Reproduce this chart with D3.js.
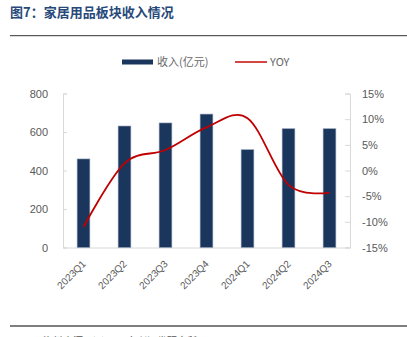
<!DOCTYPE html>
<html>
<head>
<meta charset="utf-8">
<script src="https://cdn.jsdelivr.net/npm/d3@7"></script>
<style>
  html, body { margin: 0; padding: 0; background: #fff; }
  svg { display: block; font-family: "Liberation Sans", Arial, "Noto Sans CJK SC", sans-serif; }
</style>
</head>
<body>
<svg id="chart" width="407" height="337"></svg>
<script>
// Quarterly revenue of the home-goods sector (bars) and YoY growth (line)
const categories = ["2023Q1", "2023Q2", "2023Q3", "2023Q4", "2024Q1", "2024Q2", "2024Q3"];
const revenue = [460, 631, 647, 693, 508, 617, 617];          // 亿元
const yoy = [-11.0, 1.4, 4.0, 8.4, 10.2, -2.8, -4.3];          // %
const leftTicks = [0, 200, 400, 600, 800];
const rightTicks = [-15, -10, -5, 0, 5, 10, 15];

const svg = d3.select("#chart");
const plot = { left: 63, right: 350, top: 93.5, bottom: 247.5 };

// Title and rules
svg.append("text")
  .attr("x", 10).attr("y", 17)
  .attr("font-size", 13).attr("font-weight", "bold")
  .attr("fill", "#27497a")
  .attr("font-family", "'Noto Sans CJK SC', sans-serif")
  .text("图7：家居用品板块收入情况");
svg.append("line").attr("x1", 10).attr("x2", 407).attr("y1", 35.7).attr("y2", 35.7)
  .attr("stroke", "#333").attr("stroke-width", 1);
svg.append("line").attr("x1", 10).attr("x2", 407).attr("y1", 326).attr("y2", 326)
  .attr("stroke", "#555").attr("stroke-width", 1.3);
svg.append("text")
  .attr("x", 43).attr("y", 345)
  .attr("font-size", 10).attr("fill", "#555")
  .attr("font-family", "'Noto Sans CJK SC', sans-serif")
  .text("资料来源：iFinD，东兴证券研究所");

// Scales
const x = d3.scaleBand().domain(categories).range([plot.left, plot.right]);
const yL = d3.scaleLinear().domain([0, 800]).range([plot.bottom, plot.top]);
const yR = d3.scaleLinear().domain([-15, 15]).range([plot.bottom, plot.top]);

const axisColor = "#d9d9d9";
const labelColor = "#595959";

// Left axis (ticks point inward)
const gL = svg.append("g").attr("transform", `translate(${plot.left},0)`)
  .call(d3.axisLeft(yL).tickValues(leftTicks).tickSize(-4).tickPadding(15).tickFormat(d3.format("d")));
// Right axis (ticks point inward)
const gR = svg.append("g").attr("transform", `translate(${plot.right},0)`)
  .call(d3.axisRight(yR).tickValues(rightTicks).tickSize(-5).tickPadding(12).tickFormat(d => d + "%"));
[gL, gR].forEach(g => {
  g.select(".domain").attr("stroke", axisColor);
  g.selectAll(".tick line").attr("stroke", axisColor);
  g.selectAll(".tick text").attr("fill", labelColor).attr("font-size", 11)
    .attr("font-family", "'Liberation Sans', Arial, sans-serif");
});

// Bottom axis
const gB = svg.append("g").attr("transform", `translate(0,${plot.bottom})`)
  .call(d3.axisBottom(x).tickSize(0).tickPadding(0));
gB.select(".domain").attr("stroke", axisColor);
gB.selectAll(".tick text")
  .attr("fill", labelColor).attr("font-size", 10)
  .attr("font-family", "'Liberation Sans', Arial, sans-serif")
  .attr("text-anchor", "end")
  .attr("dy", 0)
  .attr("transform", "translate(3,17) rotate(-45)");

// Bars
const barW = x.bandwidth() * 0.31;
svg.append("g").selectAll("rect").data(categories).join("rect")
  .attr("x", d => x(d) + x.bandwidth() / 2 - barW / 2)
  .attr("width", barW)
  .attr("y", (d, i) => yL(revenue[i]))
  .attr("height", (d, i) => plot.bottom - yL(revenue[i]))
  .attr("fill", "#1b365d")
  .attr("stroke", "#8c9cb3").attr("stroke-width", 0.6);

// YoY smoothed line
const line = d3.line()
  .x((d, i) => x(categories[i]) + x.bandwidth() / 2)
  .y(d => yR(d))
  .curve(d3.curveCardinal.tension(0));
svg.append("path").datum(yoy)
  .attr("d", line)
  .attr("fill", "none")
  .attr("stroke", "#c00000")
  .attr("stroke-width", 1.8);

// Legend
const legend = svg.append("g").attr("font-family", "'Noto Sans CJK SC', sans-serif")
  .attr("font-size", 11).attr("fill", "#666");
legend.append("rect").attr("x", 122).attr("y", 59.5).attr("width", 31).attr("height", 5).attr("fill", "#1b365d");
legend.append("text").attr("x", 157).attr("y", 66).text("收入(亿元)");
legend.append("line").attr("x1", 235).attr("x2", 267).attr("y1", 62).attr("y2", 62)
  .attr("stroke", "#d03030").attr("stroke-width", 1.8);
legend.append("text").attr("x", 270).attr("y", 66).text("YOY");
</script>
</body>
</html>
